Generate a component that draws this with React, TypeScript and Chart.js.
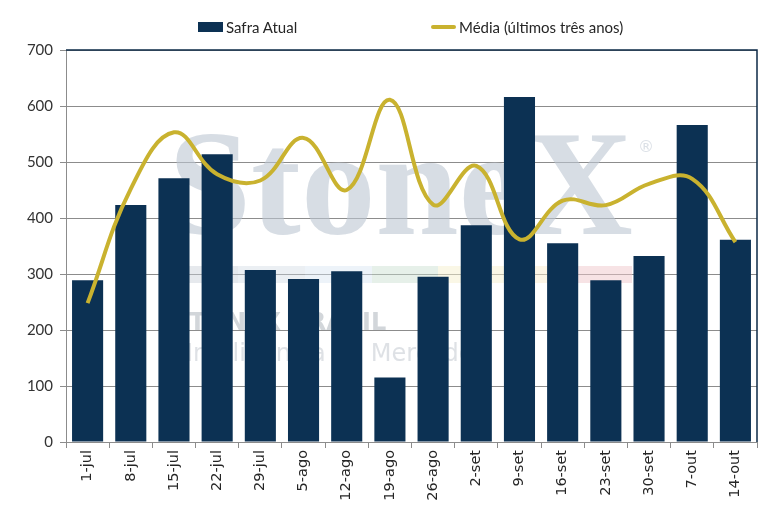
import React, { useEffect, useRef } from "react";
import { Chart, registerables } from "chart.js";

Chart.register(...registerables);

const categories = [
  "1-jul", "8-jul", "15-jul", "22-jul", "29-jul", "5-ago", "12-ago", "19-ago",
  "26-ago", "2-set", "9-set", "16-set", "23-set", "30-set", "7-out", "14-out",
];
const safraAtual = [289, 423, 471, 514, 307, 291, 305, 115, 295, 387, 616, 355, 289, 332, 566, 361];
const mediaTresAnos = [248, 452, 553, 478, 467, 543, 450, 611, 424, 493, 362, 431, 423, 461, 470, 357];
const yMin = 0;
const yMax = 700;
const yStep = 100;

const BAR_COLOR = "#0c3153";
const LINE_COLOR = "#c9b22f";
const GRID_COLOR = "#8c8c8c";
const BORDER_COLOR = "#0c2a47";

const watermarkPlugin = {
  id: "watermark",
  beforeDatasetsDraw(chart: any) {
    const ctx = chart.ctx as CanvasRenderingContext2D;
    ctx.save();
    ctx.fillStyle = "rgba(188,198,210,0.6)";
    ctx.font = "bold 150px 'Liberation Serif'";
    ctx.textBaseline = "alphabetic";
    const txt = "StoneX";
    const w = ctx.measureText(txt).width;
    ctx.translate(168, 234);
    ctx.scale(465 / w, 1);
    ctx.fillText(txt, 0, 0);
    ctx.restore();
    ctx.save();
    ctx.fillStyle = "rgba(190,199,210,0.55)";
    ctx.font = "16px 'DejaVu Sans'";
    ctx.fillText("®", 638, 152);
    const strip = [
      ["rgba(200,206,214,0.45)", 170, 238],
      ["rgba(205,214,226,0.4)", 238, 305],
      ["rgba(214,228,242,0.45)", 305, 372],
      ["rgba(200,222,206,0.45)", 372, 438],
      ["rgba(245,240,205,0.5)", 438, 505],
      ["rgba(250,236,205,0.5)", 505, 565],
      ["rgba(240,200,204,0.5)", 565, 632],
    ] as [string, number, number][];
    for (const [c, x0, x1] of strip) {
      ctx.fillStyle = c;
      ctx.fillRect(x0, 266, x1 - x0, 17);
    }
    ctx.fillStyle = "rgba(180,186,194,0.6)";
    ctx.font = "bold 24px 'DejaVu Sans'";
    ctx.fillText("STONEX BRASIL", 172, 330);
    ctx.fillStyle = "rgba(200,205,212,0.6)";
    ctx.font = "24px 'DejaVu Sans'";
    ctx.fillText("Inteligência de Mercado", 186, 361);
    ctx.restore();
  },
};

const borderPlugin = {
  id: "frameBorder",
  afterDraw(chart: any) {
    const { ctx, chartArea } = chart;
    ctx.save();
    ctx.strokeStyle = BORDER_COLOR;
    ctx.lineWidth = 1.5;
    ctx.beginPath();
    ctx.moveTo(chartArea.left, chartArea.top);
    ctx.lineTo(chartArea.right, chartArea.top);
    ctx.lineTo(chartArea.right, chartArea.bottom);
    ctx.stroke();
    ctx.restore();
  },
};

export default function App() {
  const canvasRef = useRef<HTMLCanvasElement | null>(null);

  useEffect(() => {
    document.body.style.margin = "0";
    const canvas = canvasRef.current;
    if (!canvas) return;
    const chart = new Chart(canvas, {
      data: {
        labels: categories,
        datasets: [
          {
            type: "line",
            label: "Média (últimos três anos)",
            data: mediaTresAnos,
            borderColor: LINE_COLOR,
            backgroundColor: LINE_COLOR,
            borderWidth: 4,
            pointRadius: 0,
            tension: 0.4,
            order: 0,
          } as any,
          {
            type: "bar",
            label: "Safra Atual",
            data: safraAtual,
            backgroundColor: BAR_COLOR,
            borderWidth: 0,
            barPercentage: 0.72,
            categoryPercentage: 1,
            order: 1,
          } as any,
        ],
      },
      options: {
        animation: false,
        responsive: false,
        maintainAspectRatio: false,
        layout: { padding: { top: 50, right: 23, left: 0, bottom: 0 } },
        plugins: {
          legend: { display: false },
          tooltip: { enabled: false },
        },
        scales: {
          x: {
            offset: true,
            grid: {
              display: true,
              offset: true,
              drawOnChartArea: false,
              color: GRID_COLOR,
              tickLength: 6,
            },
            border: { display: true, color: GRID_COLOR, width: 1 },
            ticks: {
              minRotation: 90,
              maxRotation: 90,
              autoSkip: false,
              padding: 2,
              color: "#262626",
              font: { family: "'DejaVu Sans'", size: 14.5 },
            },
            afterFit(scale: any) {
              scale.height = 77;
            },
          },
          y: {
            min: yMin,
            max: yMax,
            ticks: {
              stepSize: yStep,
              padding: 7,
              color: "#333333",
              font: { family: "Lato", size: 15 },
            },
            grid: { color: GRID_COLOR, tickLength: 6, lineWidth: 1 },
            border: { display: true, color: GRID_COLOR, width: 1 },
            afterFit(scale: any) {
              scale.width = 66;
            },
          },
        },
      },
      plugins: [watermarkPlugin, borderPlugin],
    } as any);
    return () => chart.destroy();
  }, []);

  const legendText: React.CSSProperties = {
    position: "absolute",
    top: 18,
    fontFamily: "Lato",
    fontSize: 15,
    color: "#262626",
    lineHeight: "18px",
    whiteSpace: "nowrap",
  };

  return (
    <div style={{ position: "relative", width: 780, height: 519, background: "#ffffff" }}>
      <canvas ref={canvasRef} width={780} height={519} style={{ display: "block", width: 780, height: 519 }} />
      <div style={{ position: "absolute", left: 198, top: 22, width: 25, height: 10, background: BAR_COLOR }} />
      <div style={{ ...legendText, left: 226 }}>Safra Atual</div>
      <div style={{ position: "absolute", left: 431, top: 25, width: 25, height: 4, borderRadius: 2, background: LINE_COLOR }} />
      <div style={{ ...legendText, left: 459 }}>Média (últimos três anos)</div>
    </div>
  );
}
